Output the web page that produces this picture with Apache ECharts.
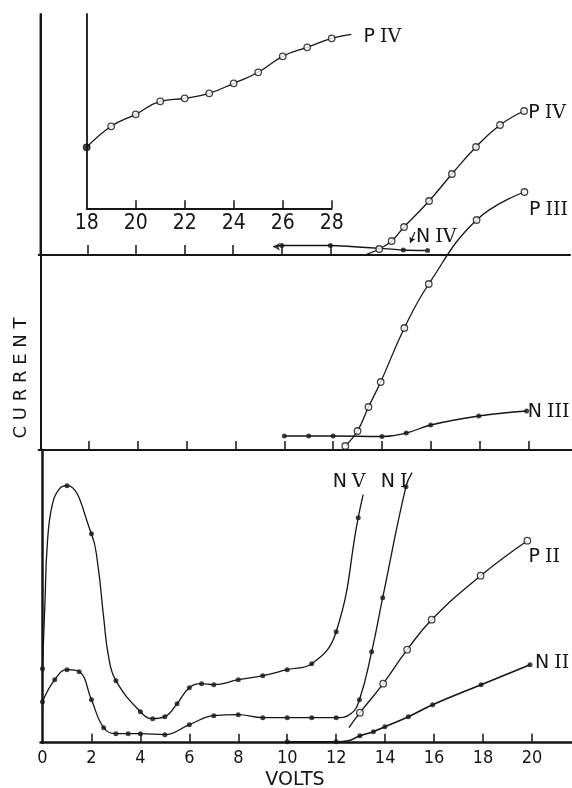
<!DOCTYPE html>
<html><head><meta charset="utf-8">
<script src="https://cdn.jsdelivr.net/npm/echarts@6/dist/echarts.min.js"></script>
<style>html,body{margin:0;padding:0;background:#fff}#c{width:572px;height:788px}</style>
</head><body><div id="c"></div>
<script>
// ---------- data (volts, current in arbitrary units) ----------
// bottom panel
const nvVolts   = [0, 1, 2, 3, 4, 4.5, 5, 5.5, 6, 6.5, 7, 8, 9, 10, 11, 12, 12.9];
const nvCurrent = [74, 257, 209, 62, 31, 24, 26, 39, 55, 59, 58, 63, 67, 73, 79, 111, 225];
const nvTraceVolts   = [0.1, 0.2, 0.4, 0.7, 2.25, 2.5, 2.7, 13.1];
const nvTraceCurrent = [140, 200, 238, 254, 180, 125, 86, 248];

const n1Volts   = [0, 0.5, 1, 1.5, 2, 2.5, 3, 3.5, 4, 5, 6, 7, 8, 9, 10, 11, 12, 12.95, 13.45, 13.9, 14.85];
const n1Current = [41, 63, 73, 71, 43, 15, 9, 9, 9, 8, 18, 27, 28, 25, 25, 25, 25, 43, 91, 145, 256];
const n1TraceVolts   = [12.6, 15.1];
const n1TraceCurrent = [29, 270];

const p2Volts   = [12.97, 13.92, 14.9, 15.9, 17.9, 19.81];
const p2Current = [30, 59, 93, 123, 167, 202];
const p2TraceVolts   = [12.52];
const p2TraceCurrent = [15];

const n2Volts   = [10, 12, 12.97, 13.52, 13.99, 14.95, 15.94, 17.92, 19.92];
const n2Current = [1, 1, 7, 11, 16, 26, 38, 58, 78];
const n2TraceVolts   = [12.5];
const n2TraceCurrent = [2];

// middle panel
const n3Volts   = [10, 11, 12, 14, 15, 16, 17.97, 19.93];
const n3Current = [14, 14, 14, 13.5, 17, 25, 34, 39];
const p3Volts   = [12.5, 13, 13.45, 13.95, 14.92, 15.92, 17.88, 19.84];
const p3Current = [4, 19, 43, 68, 122, 166, 230, 258];

// top panel
const p4Volts   = [14.01, 14.52, 15.03, 16.06, 17.0, 17.99, 18.98, 19.97];
const p4Current = [6, 14, 28, 54, 81, 108, 130, 144];
const p4TraceVolts   = [13.49];
const p4TraceCurrent = [0.7];
const n4Volts   = [10, 12, 15, 16];
const n4Current = [9.5, 9.5, 5, 4.5];
const n4StartVolts   = [9.64];
const n4StartCurrent = [8.3];

// inset (top panel, 18-28 V)
const insetVolts   = [18, 19, 20, 21, 22, 23, 24, 25, 26, 27, 28];
const insetCurrent = [61, 82, 94, 107, 110, 115, 125, 136, 152, 161, 170];
const insetTraceVolts   = [28.8];
const insetTraceCurrent = [174];

// tick labels
const mainTicks  = [0, 2, 4, 6, 8, 10, 12, 14, 16, 18, 20];
const insetTicks = [18, 20, 22, 24, 26, 28];
const topPanelTicks = [2, 4, 6, 8, 10, 12];

// ---------- helpers ----------
const INK = '#151515';
const FONT = 'DejaVu Sans';
const NARROW = '"Liberation Sans Narrow", "DejaVu Sans Condensed", "DejaVu Sans", sans-serif';
function pairs(v, c) { return v.map((x, k) => [x, c[k]]); }
function merged(v, c, tv, tc) {
  const p = pairs(v, c).concat(pairs(tv || [], tc || []));
  p.sort((a, b) => a[0] - b[0]);
  return p;
}
function label(coord, letter, numeral, off) {
  return {
    symbol: 'circle', symbolSize: 1, silent: true,
    itemStyle: { color: 'rgba(0,0,0,0)' },
    label: {
      show: true, formatter: '{p|' + letter + '}{r|' + numeral + '}', offset: off,
      rich: {
        p: { color: INK, fontSize: 19, fontFamily: FONT, padding: [0, 5, 0, 0], verticalAlign: 'middle' },
        r: { color: INK, fontSize: 19, fontFamily: '"DejaVu Serif"', verticalAlign: 'middle' }
      }
    },
    data: [{ coord: coord }]
  };
}
function curve(ax, pts, extra) {
  return Object.assign({
    type: 'line', xAxisIndex: ax, yAxisIndex: ax, data: pts, symbol: 'none',
    smooth: 0.45, clip: false, silent: true, animation: false,
    lineStyle: { color: INK, width: 1.3 }, z: 3
  }, extra || {});
}
function marks(ax, pts, open) {
  return {
    type: 'scatter', xAxisIndex: ax, yAxisIndex: ax, data: pts, symbol: 'circle',
    symbolSize: open ? 6.5 : 5, silent: true, animation: false, clip: false, z: 4,
    itemStyle: open ? { color: '#fff', borderColor: INK, borderWidth: 1.3 } : { color: INK }
  };
}
const noAxisExtras = { splitLine: { show: false }, axisLabel: { show: false }, axisTick: { show: false } };

// ---------- grids ----------
const INSET_PX_PER_V = 24.5;
const grid = [
  { left: 38.8, top: 14, width: 531.2, height: 241 },   // 0 top panel (frame)
  { left: 38.8, top: 14, width: 389.2, height: 241 },   // 1 top panel baseline
  { left: 38.59, top: 14, width: 533.4, height: 436 },  // 2 middle panel
  { left: 40.54, top: 450, width: 531.46, height: 292.7 }, // 3 bottom panel
  { left: 86.7, top: 14, width: 10 * INSET_PX_PER_V, height: 194.3 },  // 4 inset axes (18-28)
  { left: 86.7, top: 14, width: 12 * INSET_PX_PER_V, height: 194.3 }   // 5 inset data (18-30)
];

const xAxis = [
  Object.assign({ type: 'value', gridIndex: 0, min: 0, max: 21.86, position: 'top',
    axisLine: { show: true, lineStyle: { color: INK, width: 2 } } }, noAxisExtras),
  Object.assign({ type: 'value', gridIndex: 1, min: 0, max: 16.02,
    axisLine: { show: true, lineStyle: { color: INK, width: 2 } } }, noAxisExtras,
    { axisTick: { show: true, inside: true, length: 10, customValues: topPanelTicks, lineStyle: { color: INK, width: 1.5 } } }),
  Object.assign({ type: 'value', gridIndex: 2, min: -0.07, max: 21.79,
    axisLine: { show: true, lineStyle: { color: INK, width: 2 } } }, noAxisExtras,
    { axisTick: { show: true, inside: true, length: 9, customValues: mainTicks.slice(1), lineStyle: { color: INK, width: 1.5 } } }),
  { type: 'value', gridIndex: 3, min: -0.08, max: 21.635, splitLine: { show: false },
    axisLine: { show: true, lineStyle: { color: INK, width: 2.5 } },
    axisTick: { show: true, inside: true, length: 9, customValues: mainTicks.slice(1), lineStyle: { color: INK, width: 1.5 } },
    axisLabel: { show: true, customValues: mainTicks, color: INK, fontSize: 18, fontFamily: NARROW, margin: 7 } },
  { type: 'value', gridIndex: 4, min: 18, max: 28, splitLine: { show: false },
    axisLine: { show: true, lineStyle: { color: INK, width: 1.8 } },
    axisTick: { show: true, inside: true, length: 8, customValues: insetTicks.slice(1), lineStyle: { color: INK, width: 1.5 } },
    axisLabel: { show: true, customValues: insetTicks, color: INK, fontSize: 21, fontFamily: NARROW, margin: 5 } },
  { type: 'value', gridIndex: 5, min: 18, max: 30, show: false }
];
const yAxis = [
  Object.assign({ type: 'value', gridIndex: 0, min: 0, max: 241, position: 'right',
    axisLine: { show: true, lineStyle: { color: '#9a9a9a', width: 1 } } }, noAxisExtras),
  Object.assign({ type: 'value', gridIndex: 1, min: 0, max: 241, axisLine: { show: false } }, noAxisExtras),
  Object.assign({ type: 'value', gridIndex: 2, min: 0, max: 436,
    axisLine: { show: true, lineStyle: { color: INK, width: 2 } } }, noAxisExtras),
  Object.assign({ type: 'value', gridIndex: 3, min: 0, max: 292.7,
    axisLine: { show: true, lineStyle: { color: INK, width: 2.5 } } }, noAxisExtras),
  Object.assign({ type: 'value', gridIndex: 4, min: 0, max: 194.3,
    axisLine: { show: true, lineStyle: { color: INK, width: 1.8 } } }, noAxisExtras),
  { type: 'value', gridIndex: 5, min: 0, max: 194.3, show: false }
];

// ---------- series ----------
const last = a => a[a.length - 1];
const series = [
  // inset P IV (drawn on the extended inset grid so the curve can run past 28 V)
  curve(5, merged(insetVolts, insetCurrent, insetTraceVolts, insetTraceCurrent),
    { markPoint: label([last(insetTraceVolts), last(insetTraceCurrent)], 'P', 'IV', [31, 3]) }),
  marks(5, pairs(insetVolts, insetCurrent).map((p, k) => k === 0 ? { value: p, itemStyle: { color: INK, borderColor: INK } } : p), true),

  // top panel P IV
  curve(0, merged(p4Volts, p4Current, p4TraceVolts, p4TraceCurrent),
    { markPoint: label([last(p4Volts), last(p4Current)], 'P', 'IV', [23, 2]) }),
  marks(0, pairs(p4Volts, p4Current), true),
  // top panel N IV
  curve(0, merged(n4Volts, n4Current, n4StartVolts, n4StartCurrent), {
    smooth: 0.2,
    markPoint: label([n4Volts[2], n4Current[2]], 'N', 'IV', [33, -13]),
    markLine: {
      silent: true, symbol: ['none', 'arrow'], symbolSize: [5, 6],
      lineStyle: { color: INK, width: 1.1, type: 'solid', curveness: 0.45 },
      label: { show: false },
      data: [[{ coord: [15.48, 23] }, { coord: [15.28, 12] }]]
    }
  }),
  marks(0, pairs(n4Volts, n4Current), false),
  { type: 'scatter', xAxisIndex: 0, yAxisIndex: 0, data: pairs(n4StartVolts, n4StartCurrent),
    symbol: 'arrow', symbolRotate: 90, symbolSize: [6, 7], itemStyle: { color: INK }, silent: true, animation: false, z: 4 },

  // middle panel
  curve(2, pairs(p3Volts, p3Current),
    { markPoint: label([last(p3Volts), last(p3Current)], 'P', 'III', [24, 18]) }),
  marks(2, pairs(p3Volts, p3Current), true),
  curve(2, pairs(n3Volts, n3Current),
    { markPoint: label([last(n3Volts), last(n3Current)], 'N', 'III', [22, 1]) }),
  marks(2, pairs(n3Volts, n3Current), false),

  // bottom panel
  curve(3, merged(nvVolts, nvCurrent, nvTraceVolts, nvTraceCurrent),
    { markPoint: label([last(nvTraceVolts), last(nvTraceCurrent)], 'N', 'V', [-14, -13]) }),
  marks(3, pairs(nvVolts, nvCurrent), false),
  curve(3, merged(n1Volts, n1Current, n1TraceVolts, n1TraceCurrent),
    { markPoint: label([last(n1TraceVolts), last(n1TraceCurrent)], 'N', 'I', [-18, 9]) }),
  marks(3, pairs(n1Volts, n1Current), false),
  curve(3, merged(p2Volts, p2Current, p2TraceVolts, p2TraceCurrent),
    { markPoint: label([last(p2Volts), last(p2Current)], 'P', 'II', [17, 16]) }),
  marks(3, pairs(p2Volts, p2Current), true),
  curve(3, merged(n2Volts, n2Current, n2TraceVolts, n2TraceCurrent),
    { lineStyle: { color: INK, width: 1.6 },
      markPoint: label([last(n2Volts), last(n2Current)], 'N', 'II', [22, -2]) }),
  marks(3, pairs(n2Volts, n2Current), false)
];

const chart = echarts.init(document.getElementById('c'), null, { renderer: 'canvas' });
chart.setOption({
  backgroundColor: '#fff',
  animation: false,
  grid: grid, xAxis: xAxis, yAxis: yAxis, series: series,
  graphic: [
    { type: 'text', x: 21, y: 378, rotation: Math.PI / 2, silent: true,
      style: { text: 'C U R R E N T', fill: INK, font: '18px "DejaVu Sans"', align: 'center', verticalAlign: 'middle' } },
    { type: 'text', x: 295, y: 780, silent: true,
      style: { text: 'VOLTS', fill: INK, font: '19px "DejaVu Sans"', align: 'center', verticalAlign: 'middle' } }
  ]
});
</script></body></html>
